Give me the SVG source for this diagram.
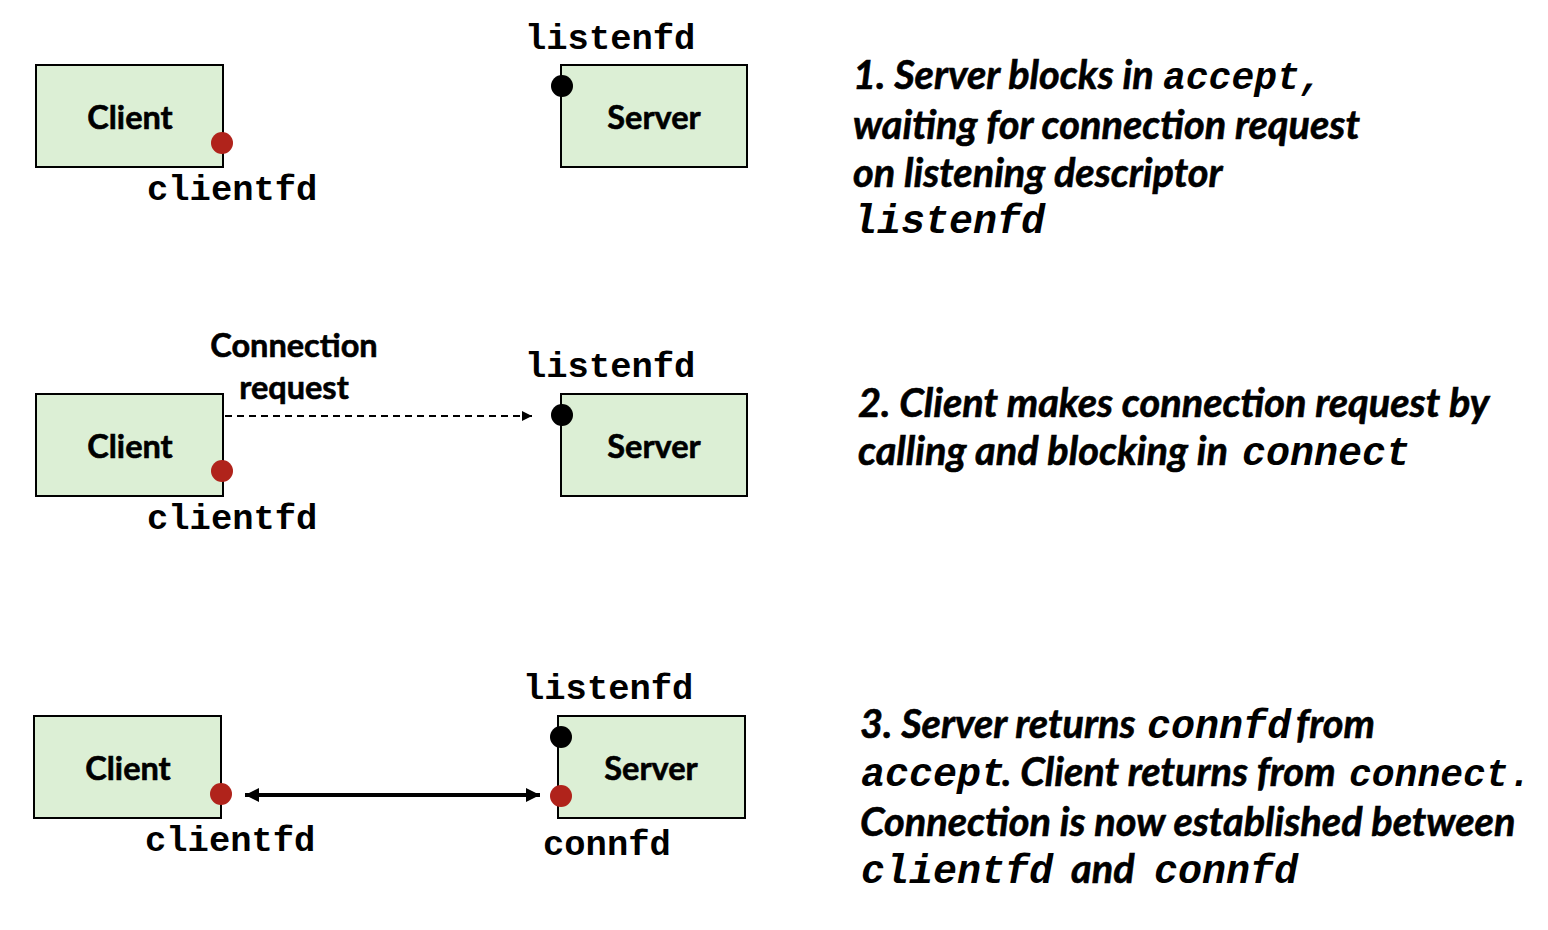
<svg xmlns="http://www.w3.org/2000/svg" width="1548" height="930" viewBox="0 0 1548 930">
<style>
.box{fill:#dcefd5;stroke:#000;stroke-width:2}
.lbl{font-family:Lato,"Open Sans",sans-serif;font-weight:bold;font-size:32.5px;fill:#000;stroke:#000;stroke-width:0.6;text-anchor:middle}
.mono{font-family:"Courier New","Liberation Mono",monospace;font-weight:bold;font-size:35.5px;fill:#000}
.desc{font-family:Lato,"Open Sans",sans-serif;font-weight:bold;font-style:italic;font-size:39.7px;fill:#000;stroke:#000;stroke-width:0.6}
.dm{font-family:"Courier New","Liberation Mono",monospace;font-weight:bold;font-style:italic;font-size:40px;stroke-width:0}
.red{fill:#b0231b}
.blk{fill:#000}
</style>
<defs>
<marker id="tri" viewBox="0 0 10 10" refX="10" refY="5" markerWidth="10" markerHeight="10" markerUnits="userSpaceOnUse" orient="auto-start-reverse"><path d="M0,0 L10,5 L0,10 z" fill="#000"/></marker>
<marker id="big" viewBox="0 0 10 10" refX="10" refY="5" markerWidth="16" markerHeight="14" markerUnits="userSpaceOnUse" orient="auto-start-reverse"><path d="M0,0 L10,5 L0,10 z" fill="#000"/></marker>
</defs>
<g id="step1">
<g id="client1"><rect class="box" x="36" y="65" width="187" height="102"/><text class="lbl" x="130" y="129">Client</text></g>
<circle class="red" cx="222" cy="143" r="11"/>
<text class="mono" x="147" y="200">clientfd</text>
<g id="server1"><rect class="box" x="561" y="65" width="186" height="102"/><text class="lbl" x="654" y="129">Server</text></g>
<circle class="blk" cx="562" cy="86" r="11"/>
<text class="mono" x="525" y="49">listenfd</text>
<g id="desc1" class="desc">
<text x="853" y="89">1. Server blocks in <tspan class="dm" x="1163" style="font-size:38px">accept,</tspan></text>
<text x="853" y="139">waiting for connection request</text>
<text x="853" y="187">on listening descriptor</text>
<text x="853" y="233"><tspan class="dm">listenfd</tspan></text>
</g>
</g>
<g id="step2">
<g id="client2"><rect class="box" x="36" y="394" width="187" height="102"/><text class="lbl" x="130" y="458">Client</text></g>
<circle class="red" cx="222" cy="471" r="11"/>
<text class="mono" x="147" y="529">clientfd</text>
<text class="lbl" x="294" y="357">Connection</text>
<text class="lbl" x="294" y="399">request</text>
<g id="server2"><rect class="box" x="561" y="394" width="186" height="102"/><text class="lbl" x="654" y="458">Server</text></g>
<circle class="blk" cx="562" cy="415" r="11"/>
<text class="mono" x="525" y="377">listenfd</text>
<g id="desc2" class="desc">
<text x="858" y="417">2. Client makes connection request by</text>
<text x="858" y="465">calling and blocking in <tspan class="dm" x="1242">connect</tspan></text>
</g>
</g>
<g id="step3">
<g id="client3"><rect class="box" x="34" y="716" width="187" height="102"/><text class="lbl" x="128" y="780">Client</text></g>
<circle class="red" cx="221" cy="794" r="11"/>
<text class="mono" x="145" y="851">clientfd</text>
<g id="server3"><rect class="box" x="558" y="716" width="187" height="102"/><text class="lbl" x="651" y="780">Server</text></g>
<circle class="blk" cx="561" cy="737" r="11"/>
<circle class="red" cx="561" cy="796" r="11"/>
<text class="mono" x="523" y="699">listenfd</text>
<text class="mono" x="543" y="855">connfd</text>
<g id="desc3" class="desc">
<text x="860" y="738">3. Server returns <tspan class="dm" x="1147">connfd</tspan><tspan x="1296">from</tspan></text>
<text x="861" y="786"><tspan class="dm">accept</tspan><tspan x="1002">. Client returns from</tspan><tspan class="dm" x="1349" style="font-size:38px">connect.</tspan></text>
<text x="860" y="836">Connection is now established between</text>
<text x="861" y="883"><tspan class="dm">clientfd</tspan><tspan x="1071">and</tspan><tspan class="dm" x="1154">connfd</tspan></text>
</g>
</g>
<g id="connectors">
<line x1="225" y1="416" x2="532" y2="416" stroke="#000" stroke-width="2" stroke-dasharray="7,5" marker-end="url(#tri)"/>
<line x1="245" y1="795" x2="540" y2="795" stroke="#000" stroke-width="4" marker-start="url(#big)" marker-end="url(#big)"/>
</g>
</svg>
